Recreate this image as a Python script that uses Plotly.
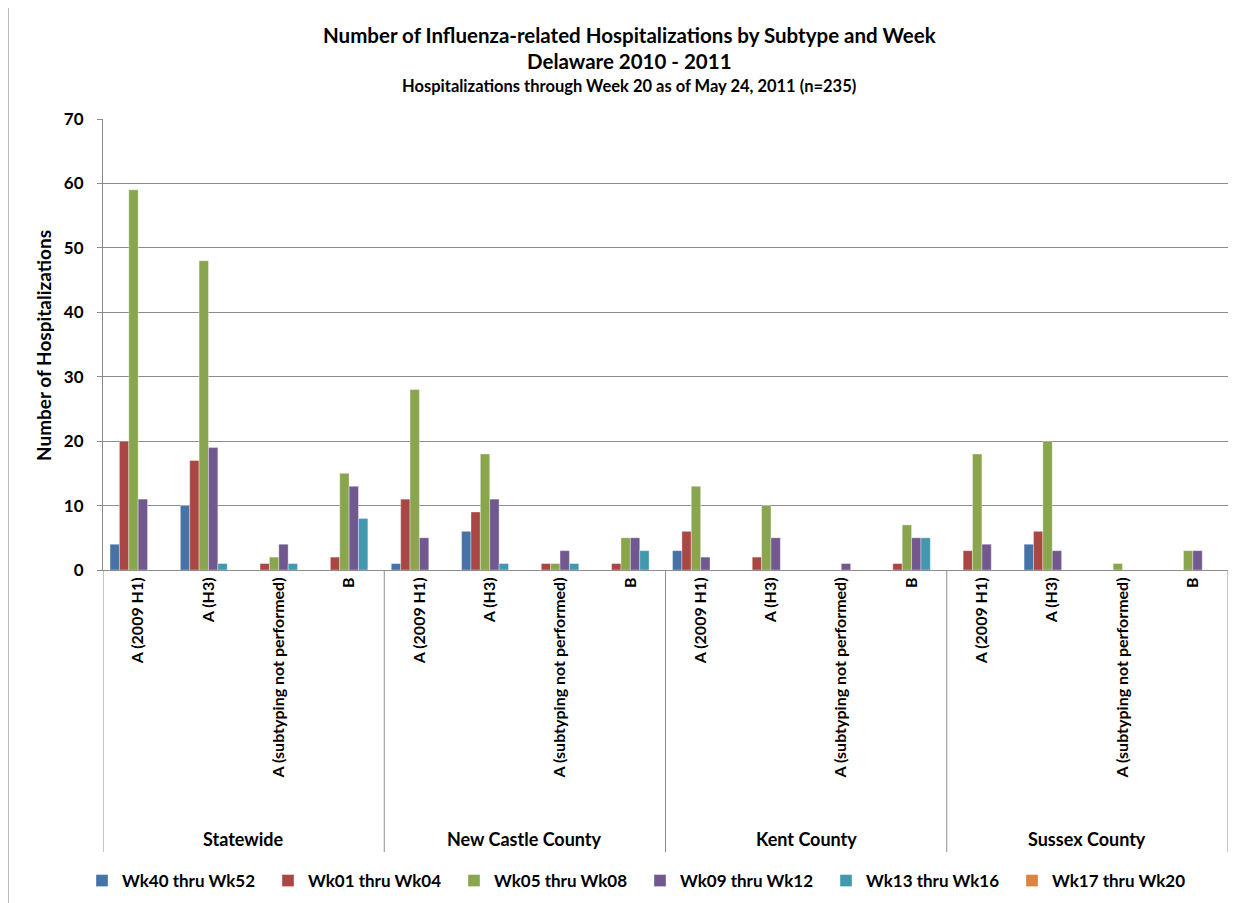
import plotly.graph_objects as go

groups = ["Statewide", "New Castle County", "Kent County", "Sussex County"]
subtypes = ["A (2009 H1)", "A (H3)", "A (subtyping not performed)", "B"]
series_names = ["Wk40 thru Wk52", "Wk01 thru Wk04", "Wk05 thru Wk08",
                "Wk09 thru Wk12", "Wk13 thru Wk16", "Wk17 thru Wk20"]
colors = ["#4572A7", "#AA4643", "#89A54E", "#71588F", "#4198AF", "#DB843D"]

# values ordered: Statewide(4 subtypes), New Castle(4), Kent(4), Sussex(4)
wk40_52 = [4, 10, 0, 0,   1, 6, 0, 0,   3, 0, 0, 0,   0, 4, 0, 0]
wk01_04 = [20, 17, 1, 2,  11, 9, 1, 1,  6, 2, 0, 1,   3, 6, 0, 0]
wk05_08 = [59, 48, 2, 15, 28, 18, 1, 5, 13, 10, 0, 7, 18, 20, 1, 3]
wk09_12 = [11, 19, 4, 13, 5, 11, 3, 5,  2, 5, 1, 5,   4, 3, 0, 3]
wk13_16 = [0, 1, 1, 8,    0, 1, 1, 3,   0, 0, 0, 5,   0, 0, 0, 0]
wk17_20 = [0, 0, 0, 0,    0, 0, 0, 0,   0, 0, 0, 0,   0, 0, 0, 0]
series_values = [wk40_52, wk01_04, wk05_08, wk09_12, wk13_16, wk17_20]

y_ticks = [0, 10, 20, 30, 40, 50, 60, 70]

cat_labels = [s for g in groups for s in subtypes]
xpos = list(range(len(cat_labels)))

FONT = "Lato, Calibri, Arial, sans-serif"
GRID = "#8C8C8C"

# page body has an 8px margin; the figure is sized/offset to compensate
OFF = 8
W, H = 1249 - OFF, 903 - OFF

fig = go.Figure()
for name, vals, col in zip(series_names, series_values, colors):
    fig.add_trace(go.Bar(
        x=xpos, y=vals, name=name,
        marker=dict(color=col, line=dict(color="rgba(255,255,255,0.6)", width=0.6)),
    ))

PLOT_LEFT, PLOT_RIGHT = 103, 1228
PLOT_TOP, PLOT_BOTTOM = 119, 570
pw = PLOT_RIGHT - PLOT_LEFT
ph = PLOT_BOTTOM - PLOT_TOP

def py(px):
    return (PLOT_BOTTOM - px) / ph

def pxr(px):
    return (px - PLOT_LEFT) / pw

shapes = []
n_sub = len(subtypes)
for i in range(len(groups) + 1):
    xv = i * n_sub - 0.5
    shapes.append(dict(type="line", xref="x", yref="paper", x0=xv, x1=xv,
                       y0=0, y1=py(852), line=dict(color=GRID, width=1)))
# outer chart border
shapes.append(dict(type="rect", xref="paper", yref="paper",
                   x0=pxr(8), x1=pxr(1262), y0=py(915), y1=py(7),
                   line=dict(color="#A6A6A6", width=1.5), fillcolor="rgba(0,0,0,0)"))

annotations = []
for i, g in enumerate(groups):
    annotations.append(dict(x=i * n_sub + (n_sub - 1) / 2, xref="x", y=py(839), yref="paper",
                            text=g, showarrow=False,
                            font=dict(family=FONT, size=18, color="#000", weight="bold"),
                            xanchor="center", yanchor="middle"))
titles = [("Number of Influenza-related Hospitalizations by Subtype and Week", 35, 20.5),
          ("Delaware 2010 - 2011", 61, 20.5),
          ("Hospitalizations through Week 20 as of May 24, 2011 (n=235)", 86, 16.5)]
for t, ypx, sz in titles:
    annotations.append(dict(x=pxr(629), xref="paper", y=py(ypx), yref="paper", text=t,
                            showarrow=False,
                            font=dict(family=FONT, size=sz, color="#000", weight="bold"),
                            xanchor="center", yanchor="middle"))
annotations.append(dict(x=pxr(43), xref="paper", y=py(346), yref="paper",
                        text="Number of Hospitalizations", textangle=-90, showarrow=False,
                        font=dict(family=FONT, size=19, color="#000", weight="bold"),
                        xanchor="center", yanchor="middle"))

fig.update_layout(
    width=W, height=H,
    margin=dict(l=PLOT_LEFT - OFF, r=1249 - PLOT_RIGHT, t=PLOT_TOP - OFF,
                b=903 - PLOT_BOTTOM, pad=0),
    paper_bgcolor="white", plot_bgcolor="white",
    barmode="group", bargap=0.2, bargroupgap=0,
    font=dict(family=FONT, color="#000"),
    showlegend=True,
    legend=dict(orientation="h", x=pxr(640), xanchor="center",
                yref="container", y=(H - (881 - OFF)) / H, yanchor="middle",
                font=dict(family=FONT, size=17, color="#000", weight="bold"),
                entrywidth=141, entrywidthmode="pixels", itemwidth=30,
                traceorder="normal"),
    xaxis=dict(range=[-0.5, len(cat_labels) - 0.5], tickmode="array",
               tickvals=xpos, ticktext=cat_labels,
               tickangle=-90, tickfont=dict(family=FONT, size=16, color="#000", weight="bold"),
               showgrid=False, showline=True, linecolor=GRID, linewidth=1,
               ticks="", zeroline=False, fixedrange=True, automargin=False),
    yaxis=dict(range=[0, 70], tickmode="array", tickvals=y_ticks,
               tickfont=dict(family=FONT, size=17, color="#000", weight="bold"),
               showgrid=True, gridcolor=GRID, gridwidth=1,
               showline=True, linecolor=GRID, linewidth=1,
               ticks="outside", ticklen=5, tickcolor=GRID, ticklabelstandoff=10,
               zeroline=False, automargin=False),
    shapes=shapes, annotations=annotations,
)

fig.write_html("out.html")
